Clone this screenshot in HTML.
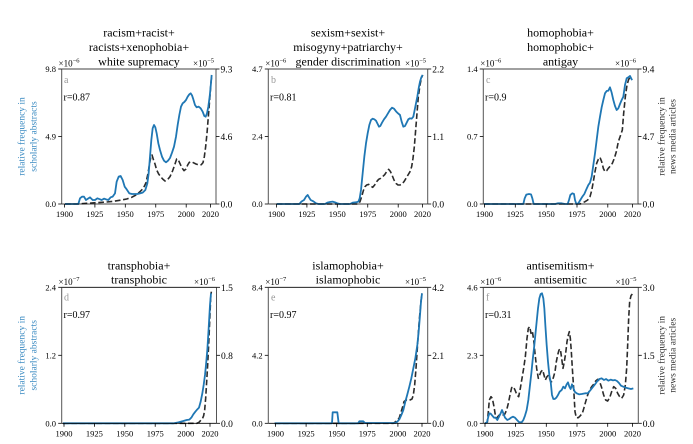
<!DOCTYPE html>
<html><head><meta charset="utf-8"><style>
html,body{margin:0;padding:0;background:#fff;}
svg{display:block;font-family:"Liberation Serif","DejaVu Serif",serif;}
.t{font-size:12px;fill:#000;text-anchor:middle;}
.yl{font-size:8.5px;fill:#000;text-anchor:end;}
.yr{font-size:9.5px;fill:#000;}
.xt{font-size:8.5px;fill:#000;text-anchor:middle;}
.off{font-size:9px;fill:#000;}
.sup{font-size:6.5px;}
.let{font-size:10px;fill:#999;}
.r{font-size:10px;fill:#000;}
.lab{font-size:9.5px;text-anchor:middle;}
.blue{fill:none;stroke:#1f77b4;stroke-width:5.4;stroke-linejoin:round;}
.dash{fill:none;stroke:#2b2b2b;stroke-width:4.8;stroke-dasharray:17,8;stroke-linejoin:round;}
.sp{stroke:#000;stroke-width:0.8;fill:none;}
.spv{stroke:#555;stroke-width:1;fill:none;}
</style></head><body>
<svg width="693" height="444" viewBox="0 0 693 444" xmlns="http://www.w3.org/2000/svg">
<rect width="693" height="444" fill="#fff"/>

<!-- ============ PANEL A ============ -->
<text class="t" x="139" y="36.5">racism+racist+</text>
<text class="t" x="139" y="51">racists+xenophobia+</text>
<text class="t" x="139" y="65.5">white supremacy</text>
<g transform="translate(0,0) scale(0.33333)">
<polyline class="dash" points="195,612 230,612 260,610 290,608 320,606 340,604 352,602 365,600 380,597 395,592 408,585 420,575 430,565 438,548 444,520 449,490 453,468 456,465 460,478 465,492 470,510 476,522 482,530 488,537 495,543 502,540 510,530 518,512 525,492 530,477 535,480 541,493 547,505 552,512 558,507 563,495 568,487 574,485 580,488 588,492 596,495 604,494 609,488 613,470 617,440 621,400 625,350 629,300 632,260 635,225"/>
<polyline class="blue" points="195,612 235,612 240,595 246,590 252,590 258,600 264,596 270,592 278,600 285,600 292,595 300,598 305,600 312,596 318,598 325,600 332,592 338,590 345,580 350,545 356,530 362,528 368,540 374,560 380,568 388,580 396,582 404,582 412,582 420,580 428,578 436,570 442,550 446,520 450,470 454,420 458,385 462,375 466,382 470,400 475,430 480,450 486,470 492,482 498,487 504,482 510,474 516,458 522,440 528,410 533,375 538,345 543,320 548,310 553,306 558,300 563,290 568,283 572,280 576,286 580,298 585,315 590,322 596,320 602,325 608,335 613,348 617,350 621,340 625,320 629,290 632,260 635,225"/>
</g>
<line class="sp" x1="61.7" y1="69" x2="216" y2="69"/>
<line class="sp" x1="61.7" y1="204" x2="216" y2="204"/>
<line class="spv" x1="61.7" y1="69" x2="61.7" y2="204"/>
<line class="spv" x1="216" y1="69" x2="216" y2="204"/>
<g class="sp">
<line x1="58.2" y1="69" x2="61.7" y2="69"/><line x1="58.2" y1="136.5" x2="61.7" y2="136.5"/><line x1="58.2" y1="204" x2="61.7" y2="204"/>
<line x1="216" y1="69" x2="219.5" y2="69"/><line x1="216" y1="136.5" x2="219.5" y2="136.5"/><line x1="216" y1="204" x2="219.5" y2="204"/>
<line x1="64.5" y1="204" x2="64.5" y2="207.5"/><line x1="94.9" y1="204" x2="94.9" y2="207.5"/><line x1="125.3" y1="204" x2="125.3" y2="207.5"/><line x1="155.75" y1="204" x2="155.75" y2="207.5"/><line x1="186.2" y1="204" x2="186.2" y2="207.5"/><line x1="210.5" y1="204" x2="210.5" y2="207.5"/>
</g>
<text class="yl" x="56" y="72">9.8</text><text class="yl" x="56" y="139.5">4.9</text><text class="yl" x="56" y="207">0.0</text>
<text class="yr" x="220.5" y="72.5">9.3</text><text class="yr" x="220.5" y="140">4.6</text><text class="yr" x="220.5" y="207.5">0.0</text>
<text class="xt" x="64.5" y="217">1900</text><text class="xt" x="94.9" y="217">1925</text><text class="xt" x="125.3" y="217">1950</text><text class="xt" x="155.75" y="217">1975</text><text class="xt" x="186.2" y="217">2000</text><text class="xt" x="210.5" y="217">2020</text>
<text class="off" x="58.5" y="66.5">×10<tspan class="sup" dy="-4">−6</tspan></text>
<text class="off" x="214" y="66.5" text-anchor="end">×10<tspan class="sup" dy="-4">−5</tspan></text>
<text class="let" x="64" y="83">a</text>
<text class="r" x="63.5" y="100.5">r=0.87</text>
<text class="lab" fill="#3b8bc2" transform="translate(24.5,136.5) rotate(-90)">relative frequency in</text>
<text class="lab" fill="#3b8bc2" transform="translate(36.5,136.5) rotate(-90)">scholarly abstracts</text>

<!-- ============ PANEL B ============ -->
<text class="t" x="348" y="36.5">sexism+sexist+</text>
<text class="t" x="348" y="51">misogyny+patriarchy+</text>
<text class="t" x="348" y="65.5">gender discrimination</text>
<g transform="translate(230,0) scale(0.33333)">
<polyline class="dash" points="140,612 385,612 390,605 395,590 400,572 405,560 410,555 416,553 422,558 428,562 434,555 440,545 446,538 452,535 458,530 464,524 470,515 476,508 481,514 486,525 492,540 498,550 504,555 510,555 516,552 522,545 528,535 534,525 540,515 545,500 549,475 553,440 557,390 561,340 565,290 570,255 574,235 578,225"/>
<polyline class="blue" points="140,612 208,612 214,605 222,600 228,590 233,585 237,592 242,600 250,604 258,610 265,612 285,612 292,608 300,606 308,605 315,607 322,610 330,612 360,612 368,608 378,607 385,605 389,595 393,570 398,520 403,470 408,430 413,400 418,375 423,360 428,356 433,358 438,362 443,372 447,380 451,378 456,368 462,358 468,350 474,340 480,330 486,323 492,326 498,334 504,340 510,345 515,365 520,380 525,378 530,368 535,358 540,355 545,356 550,350 554,330 558,310 562,290 566,265 570,245 574,232 578,225"/>
</g>
<line class="sp" x1="268.3" y1="69" x2="427.7" y2="69"/>
<line class="sp" x1="268.3" y1="204" x2="427.7" y2="204"/>
<line class="spv" x1="268.3" y1="69" x2="268.3" y2="204"/>
<line class="spv" x1="427.7" y1="69" x2="427.7" y2="204"/>
<g class="sp">
<line x1="264.8" y1="69" x2="268.3" y2="69"/><line x1="264.8" y1="136.5" x2="268.3" y2="136.5"/><line x1="264.8" y1="204" x2="268.3" y2="204"/>
<line x1="427.7" y1="69" x2="431.2" y2="69"/><line x1="427.7" y1="136.5" x2="431.2" y2="136.5"/><line x1="427.7" y1="204" x2="431.2" y2="204"/>
<line x1="276.5" y1="204" x2="276.5" y2="207.5"/><line x1="306.9" y1="204" x2="306.9" y2="207.5"/><line x1="337.3" y1="204" x2="337.3" y2="207.5"/><line x1="367.75" y1="204" x2="367.75" y2="207.5"/><line x1="398.2" y1="204" x2="398.2" y2="207.5"/><line x1="422.5" y1="204" x2="422.5" y2="207.5"/>
</g>
<text class="yl" x="262.6" y="72">4.7</text><text class="yl" x="262.6" y="139.5">2.4</text><text class="yl" x="262.6" y="207">0.0</text>
<text class="yr" x="432.2" y="72.5">2.2</text><text class="yr" x="432.2" y="140">1.1</text><text class="yr" x="432.2" y="207.5">0.0</text>
<text class="xt" x="276.5" y="217">1900</text><text class="xt" x="306.9" y="217">1925</text><text class="xt" x="337.3" y="217">1950</text><text class="xt" x="367.75" y="217">1975</text><text class="xt" x="398.2" y="217">2000</text><text class="xt" x="422.5" y="217">2020</text>
<text class="off" x="265.3" y="66.5">×10<tspan class="sup" dy="-4">−6</tspan></text>
<text class="off" x="426" y="66.5" text-anchor="end">×10<tspan class="sup" dy="-4">−5</tspan></text>
<text class="let" x="271" y="83">b</text>
<text class="r" x="270" y="100.5">r=0.81</text>

<!-- ============ PANEL C ============ -->
<text class="t" x="560.5" y="36.5">homophobia+</text>
<text class="t" x="560.5" y="51">homophobic+</text>
<text class="t" x="560.5" y="65.5">antigay</text>
<g transform="translate(455,0) scale(0.33333)">
<polyline class="dash" points="87,612 368,612 375,612 382,609 390,605 398,600 405,590 410,572 415,545 420,515 425,490 430,478 435,472 440,485 445,505 450,515 455,512 460,505 466,498 472,490 478,475 484,455 490,425 496,408 502,390 506,340 511,290 516,255 521,238 526,232 530,230"/>
<polyline class="blue" points="87,612 205,612 209,595 214,584 222,582 228,583 232,595 236,612 300,612 308,610 320,610 330,612 338,612 342,600 346,585 352,580 357,582 360,600 364,612 370,610 376,600 382,590 388,582 394,568 400,555 405,548 410,530 415,495 420,460 425,420 430,380 435,350 440,322 445,300 450,280 455,273 460,272 465,262 470,278 475,300 480,318 485,330 490,325 495,312 500,300 505,290 510,255 515,235 520,232 525,228 530,238 532,240"/>
</g>
<line class="sp" x1="483.3" y1="69" x2="638" y2="69"/>
<line class="sp" x1="483.3" y1="204" x2="638" y2="204"/>
<line class="spv" x1="483.3" y1="69" x2="483.3" y2="204"/>
<line class="spv" x1="638" y1="69" x2="638" y2="204"/>
<g class="sp">
<line x1="479.8" y1="69" x2="483.3" y2="69"/><line x1="479.8" y1="136.5" x2="483.3" y2="136.5"/><line x1="479.8" y1="204" x2="483.3" y2="204"/>
<line x1="638" y1="69" x2="641.5" y2="69"/><line x1="638" y1="136.5" x2="641.5" y2="136.5"/><line x1="638" y1="204" x2="641.5" y2="204"/>
<line x1="484.5" y1="204" x2="484.5" y2="207.5"/><line x1="515.3" y1="204" x2="515.3" y2="207.5"/><line x1="546.2" y1="204" x2="546.2" y2="207.5"/><line x1="577" y1="204" x2="577" y2="207.5"/><line x1="607.8" y1="204" x2="607.8" y2="207.5"/><line x1="632.5" y1="204" x2="632.5" y2="207.5"/>
</g>
<text class="yl" x="477.6" y="72">1.4</text><text class="yl" x="477.6" y="139.5">0.7</text><text class="yl" x="477.6" y="207">0.0</text>
<text class="yr" x="642.5" y="72.5">9.4</text><text class="yr" x="642.5" y="140">4.7</text><text class="yr" x="642.5" y="207.5">0.0</text>
<text class="xt" x="484.5" y="217">1900</text><text class="xt" x="515.3" y="217">1925</text><text class="xt" x="546.2" y="217">1950</text><text class="xt" x="577" y="217">1975</text><text class="xt" x="607.8" y="217">2000</text><text class="xt" x="632.5" y="217">2020</text>
<text class="off" x="480.3" y="66.5">×10<tspan class="sup" dy="-4">−6</tspan></text>
<text class="off" x="636" y="66.5" text-anchor="end">×10<tspan class="sup" dy="-4">−6</tspan></text>
<text class="let" x="486" y="83">c</text>
<text class="r" x="485" y="100.5">r=0.9</text>
<text class="lab" fill="#333" transform="translate(664.5,136.5) rotate(-90)">relative frequency in</text>
<text class="lab" fill="#333" transform="translate(675.5,136.5) rotate(-90)">news media articles</text>

<!-- ============ PANEL D ============ -->
<text class="t" x="139" y="269.5">transphobia+</text>
<text class="t" x="139" y="283.5">transphobic</text>
<g transform="translate(0,225) scale(0.33333)">
<polyline class="dash" points="189,595 590,595 597,592 603,585 607,582 611,572 614,555 617,520 620,470 623,420 626,360 629,290 632,220 634,200"/>
<polyline class="blue" points="189,595 520,595 535,592 550,588 560,585 568,584 574,578 580,568 586,560 592,553 597,548 602,530 607,505 611,480 615,450 618,420 622,375 626,310 630,240 633,205"/>
</g>
<line class="sp" x1="61.7" y1="287.3" x2="216.5" y2="287.3"/>
<line class="sp" x1="61.7" y1="423.3" x2="216.5" y2="423.3"/>
<line class="spv" x1="61.7" y1="287.3" x2="61.7" y2="423.3"/>
<line class="spv" x1="216.5" y1="287.3" x2="216.5" y2="423.3"/>
<g class="sp">
<line x1="58.2" y1="287.3" x2="61.7" y2="287.3"/><line x1="58.2" y1="355.3" x2="61.7" y2="355.3"/><line x1="58.2" y1="423.3" x2="61.7" y2="423.3"/>
<line x1="216.5" y1="287.3" x2="220" y2="287.3"/><line x1="216.5" y1="355.3" x2="220" y2="355.3"/><line x1="216.5" y1="423.3" x2="220" y2="423.3"/>
<line x1="64" y1="423.3" x2="64" y2="426.8"/><line x1="94.4" y1="423.3" x2="94.4" y2="426.8"/><line x1="124.8" y1="423.3" x2="124.8" y2="426.8"/><line x1="155.2" y1="423.3" x2="155.2" y2="426.8"/><line x1="185.7" y1="423.3" x2="185.7" y2="426.8"/><line x1="210" y1="423.3" x2="210" y2="426.8"/>
</g>
<text class="yl" x="56" y="290.3">2.4</text><text class="yl" x="56" y="358.3">1.2</text><text class="yl" x="56" y="426.3">0.0</text>
<text class="yr" x="221" y="290.8">1.5</text><text class="yr" x="221" y="358.8">0.8</text><text class="yr" x="221" y="426.8">0.0</text>
<text class="xt" x="64" y="436.3">1900</text><text class="xt" x="94.4" y="436.3">1925</text><text class="xt" x="124.8" y="436.3">1950</text><text class="xt" x="155.2" y="436.3">1975</text><text class="xt" x="185.7" y="436.3">2000</text><text class="xt" x="210" y="436.3">2020</text>
<text class="off" x="58.5" y="285">×10<tspan class="sup" dy="-4">−7</tspan></text>
<text class="off" x="215" y="285" text-anchor="end">×10<tspan class="sup" dy="-4">−6</tspan></text>
<text class="let" x="64" y="300.3">d</text>
<text class="r" x="63.5" y="317.8">r=0.97</text>
<text class="lab" fill="#3b8bc2" transform="translate(24.5,355.3) rotate(-90)">relative frequency in</text>
<text class="lab" fill="#3b8bc2" transform="translate(36.5,355.3) rotate(-90)">scholarly abstracts</text>

<!-- ============ PANEL E ============ -->
<text class="t" x="348" y="269.5">islamophobia+</text>
<text class="t" x="348" y="283.5">islamophobic</text>
<g transform="translate(230,225) scale(0.33333)">
<polyline class="dash" points="134,595 490,595 497,590 503,585 508,578 513,562 518,545 522,530 528,525 534,527 540,525 546,522 550,510 554,480 558,430 562,370 566,310 570,260 574,220 576,205"/>
<polyline class="blue" points="134,595 306,595 308,562 322,562 326,595 384,595 388,589 400,589 405,594 496,594 502,590 508,583 514,570 520,555 526,530 532,508 538,485 544,460 550,430 556,400 562,360 566,320 570,270 573,230 576,205"/>
</g>
<line class="sp" x1="268.3" y1="287.3" x2="427.7" y2="287.3"/>
<line class="sp" x1="268.3" y1="423.3" x2="427.7" y2="423.3"/>
<line class="spv" x1="268.3" y1="287.3" x2="268.3" y2="423.3"/>
<line class="spv" x1="427.7" y1="287.3" x2="427.7" y2="423.3"/>
<g class="sp">
<line x1="264.8" y1="287.3" x2="268.3" y2="287.3"/><line x1="264.8" y1="355.3" x2="268.3" y2="355.3"/><line x1="264.8" y1="423.3" x2="268.3" y2="423.3"/>
<line x1="427.7" y1="287.3" x2="431.2" y2="287.3"/><line x1="427.7" y1="355.3" x2="431.2" y2="355.3"/><line x1="427.7" y1="423.3" x2="431.2" y2="423.3"/>
<line x1="275.5" y1="423.3" x2="275.5" y2="426.8"/><line x1="306.1" y1="423.3" x2="306.1" y2="426.8"/><line x1="336.7" y1="423.3" x2="336.7" y2="426.8"/><line x1="367.3" y1="423.3" x2="367.3" y2="426.8"/><line x1="397.9" y1="423.3" x2="397.9" y2="426.8"/><line x1="422" y1="423.3" x2="422" y2="426.8"/>
</g>
<text class="yl" x="262.6" y="290.3">8.4</text><text class="yl" x="262.6" y="358.3">4.2</text><text class="yl" x="262.6" y="426.3">0.0</text>
<text class="yr" x="432.2" y="290.8">4.2</text><text class="yr" x="432.2" y="358.8">2.1</text><text class="yr" x="432.2" y="426.8">0.0</text>
<text class="xt" x="275.5" y="436.3">1900</text><text class="xt" x="306.1" y="436.3">1925</text><text class="xt" x="336.7" y="436.3">1950</text><text class="xt" x="367.3" y="436.3">1975</text><text class="xt" x="397.9" y="436.3">2000</text><text class="xt" x="422" y="436.3">2020</text>
<text class="off" x="265.3" y="285">×10<tspan class="sup" dy="-4">−7</tspan></text>
<text class="off" x="426" y="285" text-anchor="end">×10<tspan class="sup" dy="-4">−5</tspan></text>
<text class="let" x="271" y="300.3">e</text>
<text class="r" x="270" y="317.8">r=0.97</text>

<!-- ============ PANEL F ============ -->
<text class="t" x="560.5" y="269.5">antisemitism+</text>
<text class="t" x="560.5" y="283.5">antisemitic</text>
<g transform="translate(455,225) scale(0.33333)">
<polyline class="dash" points="90,595 97,592 100,560 103,525 108,515 112,520 117,545 121,570 126,578 131,572 137,567 143,570 149,568 155,555 160,535 165,510 170,488 175,485 180,495 186,510 191,515 196,490 201,460 206,430 211,395 216,340 220,310 224,305 228,325 232,318 236,345 240,385 245,430 250,460 254,450 258,440 263,435 267,450 271,465 276,455 281,450 286,468 290,470 295,458 300,440 304,410 308,390 312,375 316,372 320,400 324,430 328,410 332,385 336,350 340,330 343,320 346,340 349,380 352,430 356,490 360,560 364,578 370,578 376,572 382,565 387,548 392,530 398,510 404,495 410,485 416,478 422,468 428,463 434,470 440,488 446,510 452,525 458,528 464,518 470,500 476,485 482,490 488,505 494,515 500,520 506,510 511,480 515,430 518,360 521,280 524,230 528,212 532,207"/>
<polyline class="blue" points="90,595 96,592 100,575 103,565 107,566 112,572 117,578 122,578 127,585 132,575 137,565 141,555 145,565 150,578 157,585 163,582 168,578 174,575 180,578 186,585 193,592 200,592 205,585 210,572 215,555 220,525 225,480 229,445 233,405 237,370 241,330 245,290 249,250 253,220 257,207 261,205 265,220 268,250 271,300 275,360 279,410 283,450 287,470 291,510 295,522 299,522 304,518 309,510 314,500 320,495 325,485 330,490 335,478 339,472 343,485 347,492 351,478 355,488 359,500 365,505 372,508 380,507 390,505 398,505 405,497 412,488 420,478 427,468 433,462 440,460 447,465 453,462 460,467 467,464 474,466 480,465 486,468 492,474 498,482 505,485 512,488 520,490 528,492 535,490"/>
</g>
<line class="sp" x1="483.3" y1="287.3" x2="638.3" y2="287.3"/>
<line class="sp" x1="483.3" y1="423.3" x2="638.3" y2="423.3"/>
<line class="spv" x1="483.3" y1="287.3" x2="483.3" y2="423.3"/>
<line class="spv" x1="638.3" y1="287.3" x2="638.3" y2="423.3"/>
<g class="sp">
<line x1="479.8" y1="287.3" x2="483.3" y2="287.3"/><line x1="479.8" y1="355.3" x2="483.3" y2="355.3"/><line x1="479.8" y1="423.3" x2="483.3" y2="423.3"/>
<line x1="638.3" y1="287.3" x2="641.8" y2="287.3"/><line x1="638.3" y1="355.3" x2="641.8" y2="355.3"/><line x1="638.3" y1="423.3" x2="641.8" y2="423.3"/>
<line x1="485" y1="423.3" x2="485" y2="426.8"/><line x1="515.6" y1="423.3" x2="515.6" y2="426.8"/><line x1="546.3" y1="423.3" x2="546.3" y2="426.8"/><line x1="577" y1="423.3" x2="577" y2="426.8"/><line x1="607.7" y1="423.3" x2="607.7" y2="426.8"/><line x1="632.5" y1="423.3" x2="632.5" y2="426.8"/>
</g>
<text class="yl" x="477.6" y="290.3">4.6</text><text class="yl" x="477.6" y="358.3">2.3</text><text class="yl" x="477.6" y="426.3">0.0</text>
<text class="yr" x="642.8" y="290.8">3.0</text><text class="yr" x="642.8" y="358.8">1.5</text><text class="yr" x="642.8" y="426.8">0.0</text>
<text class="xt" x="485" y="436.3">1900</text><text class="xt" x="515.6" y="436.3">1925</text><text class="xt" x="546.3" y="436.3">1950</text><text class="xt" x="577" y="436.3">1975</text><text class="xt" x="607.7" y="436.3">2000</text><text class="xt" x="632.5" y="436.3">2020</text>
<text class="off" x="480.3" y="285">×10<tspan class="sup" dy="-4">−6</tspan></text>
<text class="off" x="636.5" y="285" text-anchor="end">×10<tspan class="sup" dy="-4">−5</tspan></text>
<text class="let" x="486" y="300.3">f</text>
<text class="r" x="485" y="317.8">r=0.31</text>
<text class="lab" fill="#333" transform="translate(664.5,355.3) rotate(-90)">relative frequency in</text>
<text class="lab" fill="#333" transform="translate(675.5,355.3) rotate(-90)">news media articles</text>
</svg>
</body></html>
